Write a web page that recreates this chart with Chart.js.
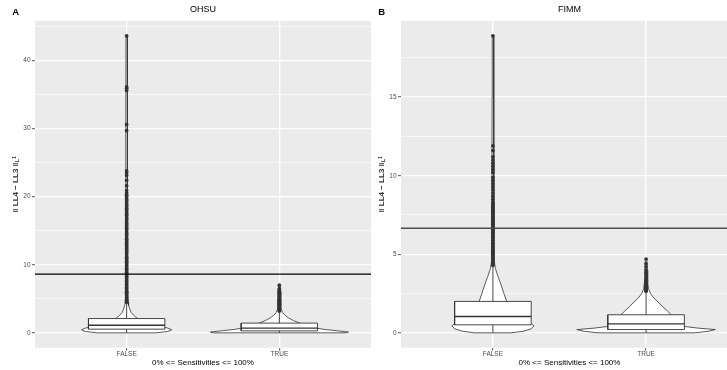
<!DOCTYPE html>
<html>
<head>
<meta charset="utf-8">
<script src="https://cdn.jsdelivr.net/npm/chart.js@4.4.1/dist/chart.umd.min.js"></script>
<style>
  html, body { margin: 0; padding: 0; background: #fff; }
  body { width: 727px; height: 370px; overflow: hidden; position: relative; }
  canvas { position: absolute; top: 0; }
  #ohsuChart { left: 0; }
  #fimmChart { left: 366px; }
</style>
</head>
<body>
<canvas id="ohsuChart" width="371" height="370"></canvas>
<canvas id="fimmChart" width="372" height="370"></canvas>
<script>
const categories = ['FALSE', 'TRUE'];
const xAxisTitle = '0% <= Sensitivities <= 100%';

// OHSU panel
const ohsuYTicks = [0, 10, 20, 30, 40];
const ohsuYMinorTicks = [5, 15, 25, 35, 45];
const ohsuCutoff = 8.63;
const ohsuBoxMin = [0, 0];
const ohsuBoxQ1 = [0.54, 0.29];
const ohsuBoxMedian = [1.12, 0.69];
const ohsuBoxQ3 = [2.1, 1.43];
const ohsuBoxUpper = [4.4, 3.1];
const ohsuFalseViolinY = [0, 0.2, 0.45, 0.7, 0.95, 1.15, 1.4, 1.8, 2.1, 2.5, 3.0, 3.5, 4.0, 4.5, 6, 10, 20, 30, 43.6];
const ohsuFalseViolinW = [0.19, 0.27, 0.295, 0.27, 0.22, 0.18, 0.13, 0.092, 0.072, 0.049, 0.029, 0.02, 0.013, 0.009, 0.0065, 0.0055, 0.005, 0.0045, 0.004];
const ohsuTrueViolinY = [0, 0.12, 0.3, 0.5, 0.7, 0.9, 1.2, 1.45, 1.8, 2.2, 2.6, 3.0, 3.4, 4.0, 5.0, 6.0, 7.0];
const ohsuTrueViolinW = [0.43, 0.452, 0.38, 0.295, 0.242, 0.203, 0.164, 0.131, 0.092, 0.059, 0.036, 0.02, 0.013, 0.01, 0.008, 0.006, 0.004];
const ohsuFalseOutliers = [4.5, 4.65, 4.8, 4.95, 5.1, 5.25, 5.4, 5.6, 5.8, 5.95, 6.1, 6.3, 6.5, 6.7, 6.9, 7.1, 7.3, 7.5,
    7.7, 7.9, 8.1, 8.3, 8.5, 8.7, 8.9, 9.1, 9.3, 9.5, 9.7, 9.9, 10.1, 10.3, 10.5, 10.7, 10.9, 11.1, 11.3, 11.6, 11.8,
    12.0, 12.2, 12.4, 12.6, 12.8, 13.0, 13.3, 13.5, 13.7, 13.9, 14.2, 14.4, 14.6, 14.8, 15.1, 15.3, 15.5, 15.8, 16.0,
    16.2, 16.5, 16.7, 16.9, 17.2, 17.4, 17.6, 17.9, 18.1, 18.3, 18.6, 18.8, 19.0, 19.3, 19.5, 19.7, 20.0, 20.2, 20.5,
    20.9, 21.6, 22.4, 23.1, 23.5, 23.8, 29.7, 30.6, 35.6, 35.9, 36.1, 43.6];
const ohsuTrueOutliers = [3.2, 3.3, 3.4, 3.5, 3.6, 3.7, 3.8, 3.9, 4.0, 4.1, 4.2, 4.3, 4.4, 4.5, 4.6, 4.7, 4.8, 4.9,
    5.0, 5.1, 5.2, 5.3, 5.4, 5.5, 5.6, 5.7, 5.8, 5.9, 6.0, 6.1, 6.2, 6.3, 6.5, 7.0];

// FIMM panel
const fimmYTicks = [0, 5, 10, 15];
const fimmYMinorTicks = [2.5, 7.5, 12.5, 17.5];
const fimmCutoff = 6.66;
const fimmBoxMin = [0, 0];
const fimmBoxQ1 = [0.51, 0.21];
const fimmBoxMedian = [1.04, 0.57];
const fimmBoxQ3 = [2.0, 1.15];
const fimmBoxUpper = [4.2, 2.6];
const fimmFalseViolinY = [0, 0.1, 0.25, 0.45, 0.6, 0.8, 1.1, 1.5, 2.0, 2.5, 3.1, 3.6, 4.1, 4.5, 6, 10, 15, 18.9];
const fimmFalseViolinW = [0.118, 0.196, 0.249, 0.268, 0.249, 0.216, 0.177, 0.131, 0.09, 0.072, 0.052, 0.033, 0.016, 0.0098, 0.007, 0.006, 0.005, 0.004];
const fimmTrueViolinY = [0, 0.1, 0.21, 0.3, 0.4, 0.6, 0.9, 1.15, 1.4, 1.7, 1.9, 2.2, 2.5, 2.8, 3.2, 4.0, 4.7];
const fimmTrueViolinW = [0.314, 0.406, 0.452, 0.34, 0.255, 0.216, 0.183, 0.164, 0.138, 0.105, 0.085, 0.052, 0.029, 0.016, 0.0105, 0.0072, 0.004];
const fimmFalseOutliers = [4.3, 4.4, 4.5, 4.6, 4.7, 4.8, 4.9, 5.0, 5.1, 5.2, 5.3, 5.4, 5.5, 5.6, 5.7, 5.8, 5.9, 6.0,
    6.1, 6.2, 6.3, 6.4, 6.5, 6.6, 6.7, 6.8, 6.9, 7.0, 7.1, 7.2, 7.3, 7.4, 7.5, 7.6, 7.7, 7.8, 7.9, 8.0, 8.1, 8.2, 8.3,
    8.5, 8.7, 8.9, 9.1, 9.3, 9.5, 9.7, 9.9, 10.2, 10.4, 10.6, 10.8, 11.0, 11.2, 11.6, 11.9, 18.9];
const fimmTrueOutliers = [2.65, 2.7, 2.75, 2.8, 2.85, 2.9, 2.95, 3.0, 3.05, 3.1, 3.15, 3.2, 3.25, 3.3, 3.35, 3.45,
    3.55, 3.7, 3.85, 4.0, 4.2, 4.4, 4.7];

const X_MIN = 0.4;
const X_MAX = 2.6;
const BOX_HALF = 0.25;
const INK = '#333333';
const FONT = '"Liberation Sans", Arial, Helvetica, sans-serif';

// panel background like ggplot grey theme
const panelBg = {
    id: 'panelBg',
    beforeDraw(chart) {
        const a = chart.chartArea;
        chart.ctx.save();
        chart.ctx.fillStyle = '#EBEBEB';
        chart.ctx.fillRect(a.left, a.top, a.right - a.left, a.bottom - a.top);
        chart.ctx.restore();
    }
};

// fill closed outlines (violins, boxes) with white before their border is stroked
const shapeFill = {
    id: 'shapeFill',
    beforeDatasetDraw(chart, args) {
        const ds = chart.data.datasets[args.index];
        if (!ds.shapeFill) return;
        const pts = args.meta.data;
        const ctx = chart.ctx;
        const a = chart.chartArea;
        ctx.save();
        ctx.beginPath();
        ctx.rect(a.left, a.top, a.right - a.left, a.bottom - a.top);
        ctx.clip();
        ctx.beginPath();
        pts.forEach((p, i) => { if (i === 0) ctx.moveTo(p.x, p.y); else ctx.lineTo(p.x, p.y); });
        ctx.closePath();
        ctx.fillStyle = ds.shapeFill;
        ctx.fill();
        ctx.restore();
    }
};

const ggText = {
    id: 'ggText',
    afterDraw(chart, args, opts) {
        const ctx = chart.ctx;
        const a = chart.chartArea;
        const cx = (a.left + a.right) / 2;
        ctx.save();
        ctx.fillStyle = '#000';
        ctx.textAlign = 'center';
        ctx.textBaseline = 'middle';
        ctx.font = '9px ' + FONT;
        ctx.fillText(opts.title, cx, 10);
        ctx.font = 'bold 9.5px ' + FONT;
        ctx.fillText(opts.tag, 15.7, 12);
        ctx.font = '8px ' + FONT;
        ctx.fillText(xAxisTitle, cx, 362.7);

        // y axis title with subscript L and superscript 1
        ctx.translate(15.7, (a.top + a.bottom) / 2);
        ctx.rotate(-Math.PI / 2);
        ctx.fillStyle = INK;
        ctx.textAlign = 'left';
        const main = '\u2016 LL4 \u2212 LL3 \u2016';
        ctx.font = 'bold 8px ' + FONT;
        const w1 = ctx.measureText(main).width;
        ctx.font = 'bold 6px ' + FONT;
        const w2 = ctx.measureText('L').width;
        ctx.font = 'bold 4.5px ' + FONT;
        const w3 = ctx.measureText('1').width;
        const x0 = -(w1 + w2 + w3) / 2;
        ctx.font = 'bold 8px ' + FONT;
        ctx.fillText(main, x0, 0);
        ctx.font = 'bold 6px ' + FONT;
        ctx.fillText('L', x0 + w1, 1.8);
        ctx.font = 'bold 4.5px ' + FONT;
        ctx.fillText('1', x0 + w1 + w2, -0.8);
        ctx.restore();
    }
};

function violinPoints(center, ys, ws) {
    const left = ys.map((y, i) => ({ x: center - ws[i], y: y }));
    const right = ys.map((y, i) => ({ x: center + ws[i], y: y })).reverse();
    return left.concat(right, [left[0]]);
}

function boxPoints(center, q1, q3) {
    return [
        { x: center - BOX_HALF, y: q1 }, { x: center + BOX_HALF, y: q1 },
        { x: center + BOX_HALF, y: q3 }, { x: center - BOX_HALF, y: q3 },
        { x: center - BOX_HALF, y: q1 }
    ];
}

function buildPanel(canvasId, p) {
    const datasets = [];
    let lo = Infinity, hi = -Infinity;
    categories.forEach((cat, i) => {
        const c = i + 1;
        const all = p.violinY[i].concat(p.outliers[i], [p.boxMin[i], p.upper[i]]);
        lo = Math.min(lo, ...all);
        hi = Math.max(hi, ...all);
        datasets.push({
            data: violinPoints(c, p.violinY[i], p.violinW[i]), showLine: true, shapeFill: '#FFFFFF',
            borderColor: INK, borderWidth: 0.8, pointRadius: 0, order: 6
        });
        datasets.push({
            data: [{ x: c, y: p.boxMin[i] }, { x: c, y: p.upper[i] }], showLine: true,
            borderColor: INK, borderWidth: 0.9, pointRadius: 0, order: 5
        });
        datasets.push({
            data: boxPoints(c, p.q1[i], p.q3[i]), showLine: true, shapeFill: '#FFFFFF',
            borderColor: INK, borderWidth: 0.9, pointRadius: 0, order: 4
        });
        datasets.push({
            data: [{ x: c - BOX_HALF, y: p.median[i] }, { x: c + BOX_HALF, y: p.median[i] }], showLine: true,
            borderColor: INK, borderWidth: 1.4, pointRadius: 0, order: 3
        });
        datasets.push({
            data: p.outliers[i].map(v => ({ x: c, y: v })), showLine: false,
            pointRadius: 1.85, pointBackgroundColor: INK, pointBorderWidth: 0, order: 2
        });
    });
    datasets.push({
        data: [{ x: X_MIN, y: p.cutoff }, { x: X_MAX, y: p.cutoff }], showLine: true,
        borderColor: p.cutoffColor, borderWidth: p.cutoffWidth, pointRadius: 0, order: 1
    });

    const pad = (hi - lo) * 0.05;
    const isMajor = v => p.yTicks.includes(v);

    return new Chart(document.getElementById(canvasId), {
        type: 'scatter',
        data: { datasets: datasets },
        options: {
            responsive: false,
            animation: false,
            events: [],
            layout: { autoPadding: false, padding: { top: 21, left: 0, right: 0, bottom: 0 } },
            plugins: {
                legend: { display: false },
                tooltip: { enabled: false },
                ggText: { title: p.title, tag: p.tag }
            },
            scales: {
                x: {
                    type: 'linear', min: X_MIN, max: X_MAX,
                    afterBuildTicks: s => { s.ticks = categories.map((c, i) => ({ value: i + 1 })); },
                    afterFit: s => { s.height = 22.3; },
                    ticks: {
                        autoSkip: false, padding: 0, color: '#4D4D4D', maxRotation: 0,
                        font: { family: FONT, size: 6.5 },
                        callback: v => categories[Math.round(v) - 1] || ''
                    },
                    grid: { color: '#FFFFFF', lineWidth: 1.3, tickColor: INK, tickLength: 3, tickWidth: 0.8 },
                    border: { display: false }
                },
                y: {
                    type: 'linear', min: lo - pad, max: hi + pad,
                    afterBuildTicks: s => {
                        s.ticks = p.yTicks.concat(p.yMinor).sort((a, b) => a - b).map(v => ({ value: v }));
                    },
                    afterFit: s => { s.width = 35; },
                    ticks: {
                        autoSkip: false, padding: 1.5, color: '#4D4D4D',
                        font: { family: FONT, size: 6.5 },
                        callback: v => isMajor(v) ? String(v) : ''
                    },
                    grid: {
                        color: '#FFFFFF',
                        lineWidth: ctx => (ctx.tick && isMajor(ctx.tick.value)) ? 1.3 : 0.6,
                        tickColor: ctx => (ctx.tick && isMajor(ctx.tick.value)) ? INK : 'rgba(0,0,0,0)',
                        tickLength: 3, tickWidth: 0.8
                    },
                    border: { display: false }
                }
            }
        },
        plugins: [panelBg, shapeFill, ggText]
    });
}

buildPanel('ohsuChart', {
    title: 'OHSU', tag: 'A', yTicks: ohsuYTicks, yMinor: ohsuYMinorTicks,
    cutoff: ohsuCutoff, cutoffColor: '#000000', cutoffWidth: 1.3,
    boxMin: ohsuBoxMin, q1: ohsuBoxQ1, median: ohsuBoxMedian, q3: ohsuBoxQ3, upper: ohsuBoxUpper,
    violinY: [ohsuFalseViolinY, ohsuTrueViolinY], violinW: [ohsuFalseViolinW, ohsuTrueViolinW],
    outliers: [ohsuFalseOutliers, ohsuTrueOutliers]
});

buildPanel('fimmChart', {
    title: 'FIMM', tag: 'B', yTicks: fimmYTicks, yMinor: fimmYMinorTicks,
    cutoff: fimmCutoff, cutoffColor: '#4D4D4D', cutoffWidth: 1.6,
    boxMin: fimmBoxMin, q1: fimmBoxQ1, median: fimmBoxMedian, q3: fimmBoxQ3, upper: fimmBoxUpper,
    violinY: [fimmFalseViolinY, fimmTrueViolinY], violinW: [fimmFalseViolinW, fimmTrueViolinW],
    outliers: [fimmFalseOutliers, fimmTrueOutliers]
});
</script>
</body>
</html>
